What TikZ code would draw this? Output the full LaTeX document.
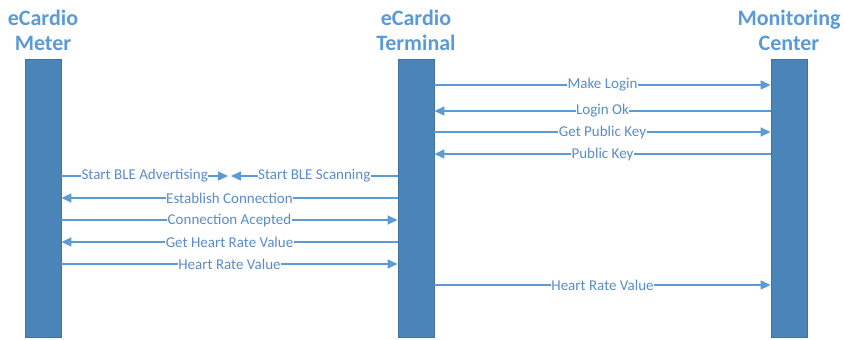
\documentclass[tikz,border=0pt]{standalone}
\usepackage{fontspec}
\setmainfont{Carlito}
\usetikzlibrary{arrows.meta,shadows}
\definecolor{titleblue}{HTML}{5B9BD5}
\definecolor{lineblue}{HTML}{5B9BD5}
\definecolor{labelblue}{HTML}{5A8DC6}
\definecolor{barblue}{HTML}{4A84B8}
\definecolor{barborder}{HTML}{41719C}

\begin{document}
\begin{tikzpicture}[x=1pt, y=-1pt]
    \tikzstyle{lifeline bar} = [rectangle,draw=barborder,fill=barblue,line width=0.8pt,minimum width=36pt,minimum height=278pt,inner sep=0pt,
        drop shadow={opacity=0.25,shadow xshift=1pt,shadow yshift=-1pt}]
    \tikzstyle{lifeline title} = [align=center,text=titleblue,font=\fontsize{22}{25}\selectfont\bfseries]
    \tikzstyle{message arrow} = [draw=lineblue,line width=1.4pt,-{Triangle[length=10pt,width=9pt]}]
    \tikzstyle{message label} = [fill=white,inner sep=0.5pt,text=labelblue,font=\fontsize{15}{15}\selectfont]
\useasboundingbox (0,0) rectangle (844,340);
\node[lifeline title] (meter title) at (43,30.5) {eCardio\\Meter};
\node[lifeline title] (terminal title) at (416,30.5) {eCardio\\Terminal};
\node[lifeline title] (center title) at (789,30.5) {Monitoring\\Center};
\node[lifeline bar] (meter) at (43,198) {};
\node[lifeline bar] (terminal) at (416,198) {};
\node[lifeline bar] (center) at (789,198) {};
% message rows
\coordinate (r1) at (0,85);
\coordinate (r2) at (0,111);
\coordinate (r3) at (0,132);
\coordinate (r4) at (0,154);
\coordinate (r5) at (0,176);
\coordinate (r6) at (0,198);
\coordinate (r7) at (0,220);
\coordinate (r8) at (0,242);
\coordinate (r9) at (0,264);
\coordinate (r10) at (0,285);
\coordinate (ble left) at (228,176);
\coordinate (ble right) at (231,176);
\draw[message arrow] (terminal.east |- r1) to node[message label] {Make Login} (center.west |- r1);
\draw[message arrow] (center.west |- r2) to node[message label] {Login Ok} (terminal.east |- r2);
\draw[message arrow] (terminal.east |- r3) to node[message label] {Get Public Key} (center.west |- r3);
\draw[message arrow] (center.west |- r4) to node[message label] {Public Key} (terminal.east |- r4);
\draw[message arrow] (meter.east |- r5) to node[message label] {Start BLE Advertising} (ble left);
\draw[message arrow] (terminal.west |- r5) to node[message label] {Start BLE Scanning} (ble right);
\draw[message arrow] (terminal.west |- r6) to node[message label] {Establish Connection} (meter.east |- r6);
\draw[message arrow] (meter.east |- r7) to node[message label] {Connection Acepted} (terminal.west |- r7);
\draw[message arrow] (terminal.west |- r8) to node[message label] {Get Heart Rate Value} (meter.east |- r8);
\draw[message arrow] (meter.east |- r9) to node[message label] {Heart Rate Value} (terminal.west |- r9);
\draw[message arrow] (terminal.east |- r10) to node[message label] {Heart Rate Value} (center.west |- r10);
\end{tikzpicture}
\end{document}
